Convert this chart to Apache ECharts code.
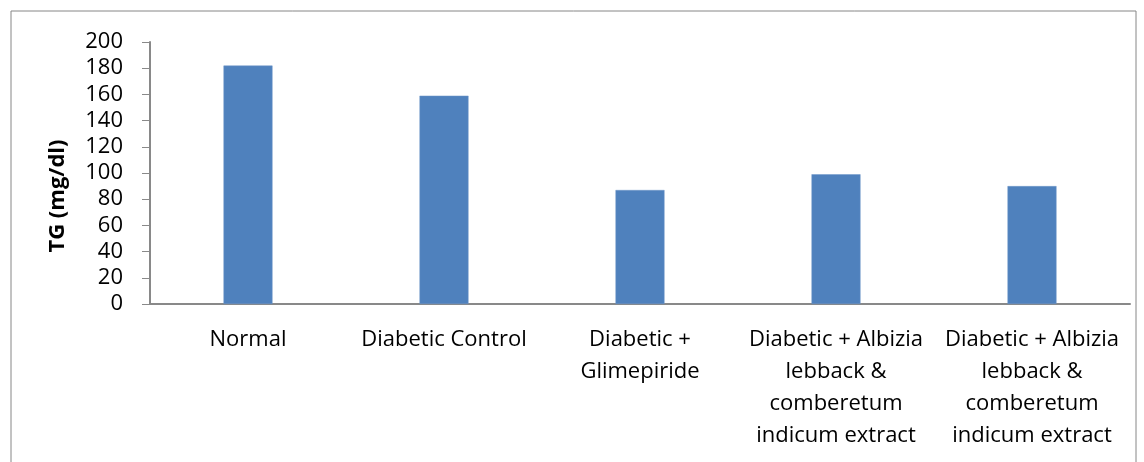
<!DOCTYPE html>
<html>
<head>
<meta charset="utf-8">
<script src="https://cdn.jsdelivr.net/npm/echarts@6/dist/echarts.min.js"></script>
<style>
  html, body { margin: 0; padding: 0; background: #fff; }
  #chart { width: 1144px; height: 462px; }
</style>
</head>
<body>
<div id="chart"></div>
<script>
// Treatment groups (line breaks follow the axis label wrapping)
const categories = [
  'Normal',
  'Diabetic Control',
  'Diabetic +\nGlimepiride',
  'Diabetic + Albizia\nlebback &\ncomberetum\nindicum extract',
  'Diabetic + Albizia\nlebback &\ncomberetum\nindicum extract'
];
// Triglyceride level per group, mg/dl
const tgValues = [182, 159, 87, 99, 90];
// Value axis settings
const yMin = 0;
const yMax = 200;
const yStep = 20;
const yTitle = 'TG (mg/dl)';

const FONT = '"Open Sans", sans-serif';
const chart = echarts.init(document.getElementById('chart'));

chart.setOption({
  animation: false,
  backgroundColor: '#fff',
  graphic: [{
    type: 'rect',
    shape: { x: 11, y: 11, width: 1125, height: 470 },
    style: { fill: 'none', stroke: '#868686', lineWidth: 1 },
    silent: true
  }, {
    // vertical value-axis title
    type: 'text',
    x: 58,
    y: 196,
    rotation: Math.PI / 2,
    style: {
      text: yTitle,
      fill: '#000',
      font: 'bold 22px "Open Sans", sans-serif',
      align: 'center',
      verticalAlign: 'middle'
    },
    silent: true
  }],
  grid: { left: 150, right: 14, top: 42, bottom: 158 },
  xAxis: {
    type: 'category',
    data: categories,
    axisLine: { show: true, lineStyle: { color: '#898989', width: 2 } },
    axisTick: { show: false },
    axisLabel: {
      interval: 0,
      color: '#000',
      fontFamily: FONT,
      fontSize: 22,
      lineHeight: 32,
      margin: 20,
      align: 'center'
    }
  },
  yAxis: {
    type: 'value',
    min: yMin,
    max: yMax,
    interval: yStep,
    axisLine: { show: true, lineStyle: { color: '#898989', width: 2 } },
    axisTick: { show: true, length: 8, inside: false, lineStyle: { color: '#898989', width: 1 } },
    splitLine: { show: false },
    axisLabel: { color: '#000', fontFamily: FONT, fontSize: 22, margin: 27 }
  },
  series: [{
    type: 'bar',
    data: tgValues,
    barWidth: '25%',
    itemStyle: { color: '#4F81BD', borderColor: '#6f97c8', borderWidth: 0.5 }
  }]
});
</script>
</body>
</html>
